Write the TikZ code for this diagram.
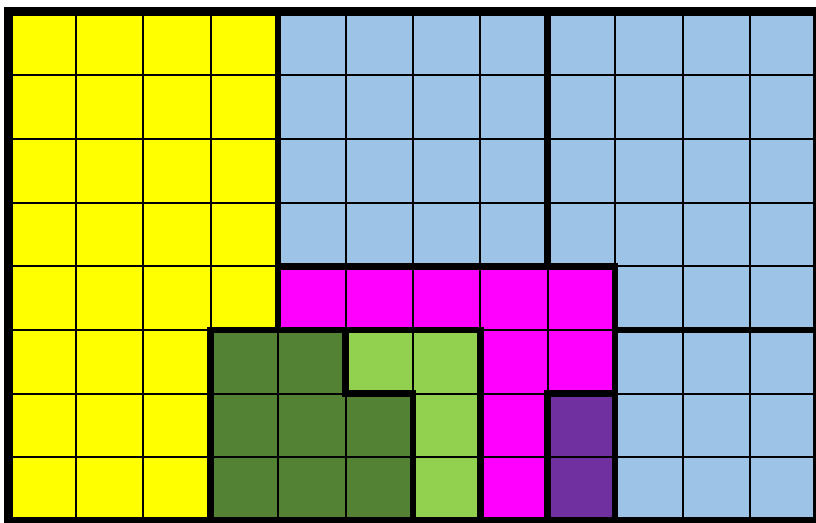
\documentclass[tikz,border=0pt]{standalone}
\usepackage{xcolor}
\usepackage{tikz}
\definecolor{TileYellow}{HTML}{FFFF00}
\definecolor{TileBlue}{HTML}{9DC3E6}
\definecolor{TileMagenta}{HTML}{FF00FF}
\definecolor{TileDarkGreen}{HTML}{548235}
\definecolor{TileLightGreen}{HTML}{92D050}
\definecolor{TilePurple}{HTML}{7030A0}

\begin{document}
\begin{tikzpicture}[
  x=2.022cm,y=-1.911cm,
  cellgrid/.style={draw=black,line width=0.06cm},
  zone/.style={draw=black,line width=0.2cm,line join=miter},
  rim/.style={draw=black,line width=0.27cm}
]
\useasboundingbox (-0.126,-0.1805) rectangle (11.98,8.02);

% regions
\fill[TileYellow] (0,0) -- (4,0) -- (4,5) -- (3,5) -- (3,8) -- (0,8) -- cycle;
\fill[TileBlue] (4,0) -- (12,0) -- (12,8) -- (9,8) -- (9,4) -- (4,4) -- cycle;
\fill[TileMagenta] (4,4) -- (9,4) -- (9,6) -- (8,6) -- (8,8) -- (7,8) -- (7,5) -- (4,5) -- cycle;
\fill[TileDarkGreen] (3,5) -- (5,5) -- (5,6) -- (6,6) -- (6,8) -- (3,8) -- cycle;
\fill[TileLightGreen] (5,5) -- (7,5) -- (7,8) -- (6,8) -- (6,6) -- (5,6) -- cycle;
\fill[TilePurple] (8,6) rectangle (9,8);

% thin grid
\foreach \i in {1,...,11}
  \draw[cellgrid] (\i,0) -- (\i,8);
\foreach \j in {1,...,7}
  \draw[cellgrid] (0,\j) -- (12,\j);

% region borders
\draw[zone] (0,0) -- (4,0) -- (4,5) -- (3,5) -- (3,8) -- (0,8) -- cycle;
\draw[zone] (4,4) -- (9,4) -- (9,6) -- (8,6) -- (8,8) -- (7,8) -- (7,5) -- (4,5) -- cycle;
\draw[zone] (3,5) -- (5,5) -- (5,6) -- (6,6) -- (6,8) -- (3,8) -- cycle;
\draw[zone] (5,5) -- (7,5) -- (7,8) -- (6,8) -- (6,6) -- (5,6) -- cycle;
\draw[zone] (8,6) rectangle (9,8);
\draw[zone] (8,0) -- (8,4);
\draw[zone] (9,5) -- (12,5);

% outer edge
\draw[rim] (0,0) rectangle (12,8);
\end{tikzpicture}
\end{document}
